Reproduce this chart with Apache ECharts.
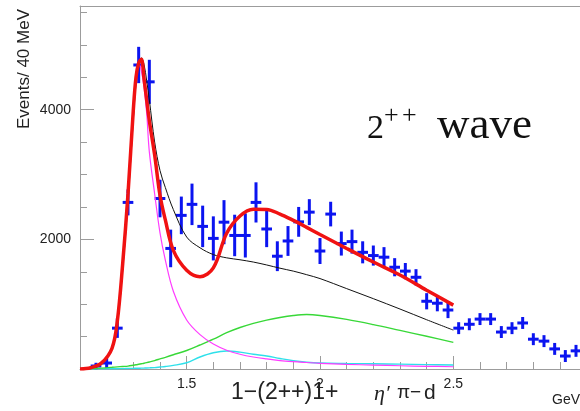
<!DOCTYPE html>
<html>
<head>
<meta charset="utf-8">
<script src="https://cdn.jsdelivr.net/npm/echarts@6/dist/echarts.min.js"></script>
<style>
  html, body { margin: 0; padding: 0; background: #fff; }
  #chart { width: 580px; height: 411px; }
</style>
</head>
<body>
<div id="chart"></div>
<script>
// Measured spectrum: 40 MeV bins (bin centres in GeV), events and errors
const massBins = [1.16, 1.20, 1.24, 1.28, 1.32, 1.36, 1.40, 1.44, 1.48, 1.52, 1.56, 1.60,
  1.64, 1.68, 1.72, 1.76, 1.80, 1.84, 1.88, 1.92, 1.96, 2.00, 2.04, 2.08, 2.12, 2.16,
  2.20, 2.24, 2.28, 2.32, 2.36, 2.40, 2.44, 2.48, 2.52, 2.56, 2.60, 2.64, 2.68, 2.72,
  2.76, 2.80, 2.84, 2.88, 2.92, 2.96];
const events = [46, 92, 630, 2570, 4690, 4430, 2630, 1860, 2370, 2540, 2200, 2015,
  2265, 2060, 2060, 2570, 2160, 1740, 1975, 2270, 2420, 1820, 2390, 1935, 1965, 1800,
  1750, 1725, 1570, 1510, 1415, 1045, 1015, 910, 630, 690, 770, 770, 570, 630,
  710, 460, 430, 310, 200, 280];
const errors = [50, 77, 150, 200, 280, 340, 290, 290, 290, 320, 320, 340,
  340, 320, 340, 310, 280, 230, 230, 230, 200, 200, 190, 185, 185, 170,
  155, 155, 140, 125, 125, 125, 125, 125, 92, 92, 92, 92, 92, 92,
  92, 92, 92, 92, 92, 92];
const binHalfWidth = 0.02;

// Fit curves sampled on a common mass grid (GeV)
const massGrid = [1.10, 1.14, 1.18, 1.22, 1.24, 1.26, 1.28, 1.30, 1.31, 1.32, 1.33, 1.34,
  1.35, 1.36, 1.38, 1.40, 1.42, 1.45, 1.50, 1.55, 1.60, 1.65, 1.70, 1.75, 1.80, 1.85,
  1.90, 1.95, 2.00, 2.10, 2.20, 2.30, 2.40, 2.50];
const totalFit = [0, 20, 90, 320, 740, 1620, 2700, 4000, 4500, 4720, 4780, 4480,
  4150, 3830, 3300, 2680, 2300, 1830, 1525, 1425, 1560, 2095, 2360, 2465, 2462, 2390,
  2292, 2185, 2075, 1860, 1650, 1450, 1215, 985];
const incoherentSum = [0, 18, 80, 300, 680, 1520, 2580, 3850, 4400, 4700, 4800, 4700,
  4450, 4150, 3500, 3062, 2800, 2460, 2036, 1870, 1765, 1715, 1685, 1650, 1605, 1555,
  1510, 1455, 1395, 1240, 1085, 925, 760, 600];
const a2Peak = [0, 20, 90, 340, 760, 1680, 2780, 4100, 4550, 4720, 4600, 4350,
  3950, 3350, 2700, 2100, 1680, 1200, 756, 530, 385, 290, 228, 185, 155, 130,
  113, 100, 88, 72, 60, 50, 42, 35];
const broadWave = [0, 5, 14, 26, 33, 39, 45, 58, 65, 73, 81, 89,
  98, 108, 130, 155, 180, 220, 285, 370, 460, 560, 640, 705, 755, 795,
  825, 840, 825, 765, 685, 595, 505, 410];
const narrowWave = [0, 0, 2, 4, 5, 6, 8, 10, 11, 12, 13, 14,
  15, 17, 22, 30, 38, 55, 97, 185, 250, 277, 260, 228, 200, 162,
  128, 105, 92, 85, 80, 75, 68, 62];

// Axis ticks
const xMajorTicks = [1.5, 2, 2.5];
const yMajorTicks = [2000, 4000];

const AXIS_GREY = '#9c9c9c';
const LABEL_FONT = '"Liberation Sans", Arial, sans-serif';
const SERIF_FONT = '"Liberation Serif", "Times New Roman", serif';

const curve = (ys) => massGrid.map((m, i) => [m, ys[i]]);
const pointData = massBins.map((m, i) => [m, events[i], errors[i]]);

function lineSeries(name, ys, color, width, z) {
  return {
    name, type: 'line', data: curve(ys), smooth: 0.35,
    showSymbol: false, symbol: 'none', z,
    lineStyle: { color, width }, silent: true, animation: false
  };
}

function label(text, x, y, font, align, fill) {
  return {
    type: 'text', x, y, z: 10,
    style: { text, font, fill: fill || '#222', align, verticalAlign: 'middle',
      textAlign: align, textVerticalAlign: 'middle' }
  };
}

const chart = echarts.init(document.getElementById('chart'), null, { renderer: 'canvas' });

chart.setOption({
  animation: false,
  backgroundColor: '#ffffff',
  grid: { left: 80, right: 0, top: 6, bottom: 42, containLabel: false },
  xAxis: [
    {
      type: 'value', min: 1.1, max: 2.975, position: 'bottom',
      axisLine: { show: true, lineStyle: { color: AXIS_GREY, width: 1 } },
      axisTick: { show: true, inside: true, length: 13, customValues: xMajorTicks,
        lineStyle: { color: AXIS_GREY, width: 1 } },
      axisLabel: { show: true, customValues: xMajorTicks, margin: 8,
        fontFamily: LABEL_FONT, fontSize: 14, color: '#222',
        formatter: (v) => String(v) },
      splitLine: { show: false }
    },
    {
      type: 'value', min: 1.1, max: 2.975, interval: 0.1, position: 'bottom',
      axisLine: { show: false },
      axisTick: { show: true, inside: true, length: 7, lineStyle: { color: AXIS_GREY, width: 1 } },
      axisLabel: { show: false }, splitLine: { show: false }
    },
    {
      type: 'value', min: 1.1, max: 2.975, position: 'top',
      axisLine: { show: true, lineStyle: { color: AXIS_GREY, width: 1 } },
      axisTick: { show: false }, axisLabel: { show: false }, splitLine: { show: false }
    }
  ],
  yAxis: [
    {
      type: 'value', min: 0, max: 5600, position: 'left',
      axisLine: { show: true, lineStyle: { color: AXIS_GREY, width: 1 } },
      axisTick: { show: true, inside: true, length: 14, customValues: yMajorTicks,
        lineStyle: { color: AXIS_GREY, width: 1 } },
      axisLabel: { show: true, customValues: yMajorTicks, margin: 9,
        fontFamily: LABEL_FONT, fontSize: 14, color: '#222',
        formatter: (v) => String(v) },
      splitLine: { show: false }
    },
    {
      type: 'value', min: 0, max: 5600, interval: 500, position: 'left',
      axisLine: { show: false },
      axisTick: { show: true, inside: true, length: 7, lineStyle: { color: AXIS_GREY, width: 1 } },
      axisLabel: { show: false }, splitLine: { show: false }
    }
  ],
  series: [
    {
      name: 'data', type: 'custom', data: pointData, z: 2,
      encode: { x: 0, y: 1 },
      renderItem: (params, api) => {
        const m = api.value(0), n = api.value(1), e = api.value(2);
        const top = api.coord([m, n + e]);
        const bottom = api.coord([m, n - e]);
        const left = api.coord([m - binHalfWidth, n]);
        const right = api.coord([m + binHalfWidth, n]);
        const style = { stroke: '#0b14f0', lineWidth: 3 };
        return {
          type: 'group',
          children: [
            { type: 'line', shape: { x1: top[0], y1: top[1], x2: bottom[0], y2: bottom[1] }, style },
            { type: 'line', shape: { x1: left[0], y1: left[1], x2: right[0], y2: right[1] }, style }
          ]
        };
      }
    },
    lineSeries('narrow', narrowWave, '#2ee0ea', 1.4, 3),
    lineSeries('broad', broadWave, '#38d838', 1.4, 3),
    lineSeries('a2', a2Peak, '#ff3cff', 1.2, 4),
    lineSeries('incoherent', incoherentSum, '#111111', 1, 5),
    lineSeries('total', totalFit, '#f01212', 3.5, 6)
  ],
  graphic: [
    { type: 'text', x: 24, y: 69, rotation: Math.PI / 2, z: 10,
      style: { text: 'Events/ 40 MeV', font: '17px ' + LABEL_FONT, fill: '#222',
        align: 'center', verticalAlign: 'middle', textAlign: 'center', textVerticalAlign: 'middle' } },
    // x-axis title, set piece by piece
    label('1−(2++)1+', 231, 393, '23px ' + LABEL_FONT, 'left'),
    label('η′', 374, 394, 'italic 22px ' + SERIF_FONT, 'left'),
    label('π−', 397, 393, '19px ' + LABEL_FONT, 'left'),
    label('d', 424, 393, '21px ' + LABEL_FONT, 'left'),
    label('GeV', 580, 400, '14px ' + LABEL_FONT, 'right'),
    // panel caption
    label('2', 367, 129.5, '34px ' + SERIF_FONT, 'left', '#111'),
    label('+', 384, 116, '26px ' + SERIF_FONT, 'left', '#111'),
    label('+', 402, 116, '26px ' + SERIF_FONT, 'left', '#111'),
    label('wave', 437, 126, '45px ' + SERIF_FONT, 'left', '#111')
  ]
});
</script>
</body>
</html>
